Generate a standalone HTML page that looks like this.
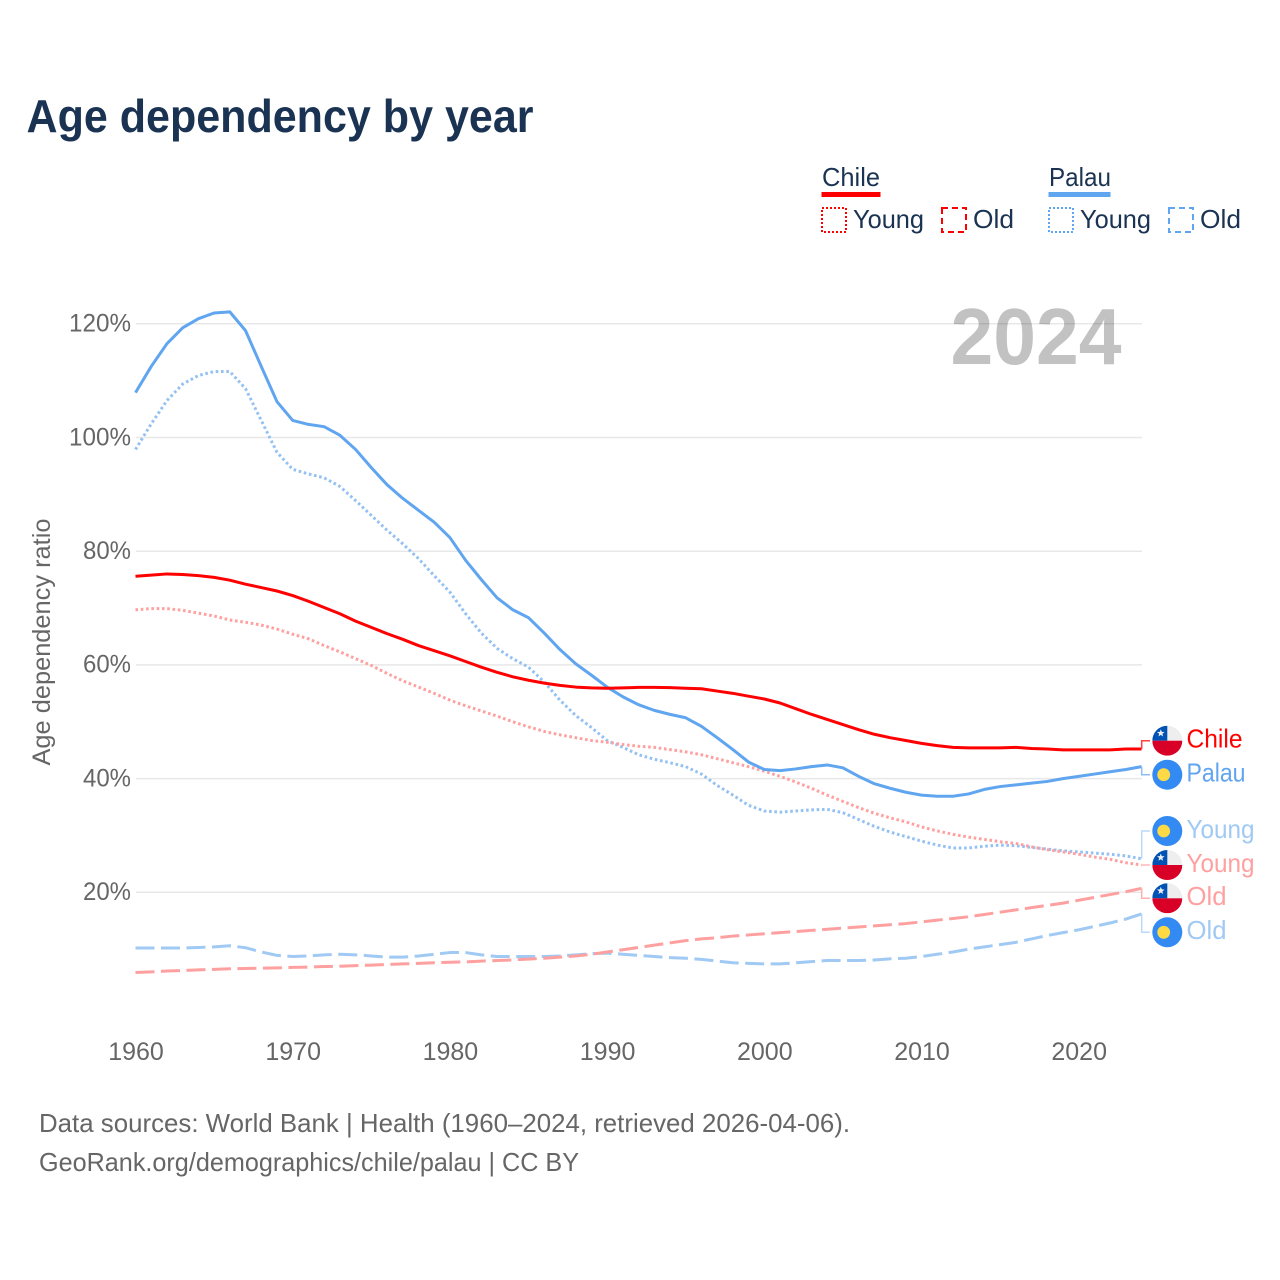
<!DOCTYPE html>
<html>
<head>
<meta charset="utf-8">
<title>Age dependency by year</title>
<style>
html,body{margin:0;padding:0;background:#fff;width:1280px;height:1280px;overflow:hidden}
svg{display:block}
text{font-family:"Liberation Sans",sans-serif}
</style>
</head>
<body>
<svg id="chart" xmlns="http://www.w3.org/2000/svg" width="1280" height="1280" viewBox="0 0 1280 1280">
  <rect width="1280" height="1280" fill="#fff"/>
  <text x="26.5" y="132" font-size="46" font-weight="700" fill="#1a3352" textLength="507" lengthAdjust="spacingAndGlyphs">Age dependency by year</text>

  <g>
    <g>
      <text x="822" y="186" font-size="26" fill="#1a3352" textLength="58" lengthAdjust="spacingAndGlyphs">Chile</text>
      <rect x="821.5" y="192" width="59" height="5" fill="#ff0000"/>
      <rect x="822" y="208" width="24" height="24" fill="none" stroke="#ff0000" stroke-width="2" stroke-dasharray="2 2"/>
      <text x="853" y="228" font-size="26" fill="#1a3352" textLength="71" lengthAdjust="spacingAndGlyphs">Young</text>
      <rect x="942" y="208" width="24" height="24" fill="none" stroke="#ff0000" stroke-width="2" stroke-dasharray="6 4"/>
      <text x="973" y="228" font-size="26" fill="#1a3352" textLength="41" lengthAdjust="spacingAndGlyphs">Old</text>
    </g>
    <g>
      <text x="1049" y="186" font-size="26" fill="#1a3352" textLength="62" lengthAdjust="spacingAndGlyphs">Palau</text>
      <rect x="1048.5" y="192" width="62" height="5" fill="#60a5ef"/>
      <rect x="1049" y="208" width="24" height="24" fill="none" stroke="#60a5ef" stroke-width="2" stroke-dasharray="2 2"/>
      <text x="1080" y="228" font-size="26" fill="#1a3352" textLength="71" lengthAdjust="spacingAndGlyphs">Young</text>
      <rect x="1169" y="208" width="24" height="24" fill="none" stroke="#60a5ef" stroke-width="2" stroke-dasharray="6 4"/>
      <text x="1200" y="228" font-size="26" fill="#1a3352" textLength="41" lengthAdjust="spacingAndGlyphs">Old</text>
    </g>
  </g>

  <g id="grid"></g>
  <g id="yticks"></g>
  <g id="xticks"></g>
  <text transform="translate(50 642) rotate(-90)" text-anchor="middle" font-size="25" fill="#666666" textLength="247" lengthAdjust="spacingAndGlyphs">Age dependency ratio</text>
  <text x="950.5" y="364" font-size="80" font-weight="700" fill="#000000" fill-opacity="0.24" textLength="171" lengthAdjust="spacingAndGlyphs">2024</text>
  <g id="series"></g>
  <g id="ends"></g>

  <text x="39" y="1132" font-size="26" fill="#666666" textLength="811" lengthAdjust="spacingAndGlyphs">Data sources: World Bank | Health (1960–2024, retrieved 2026-04-06).</text>
  <text x="39" y="1171" font-size="26" fill="#666666" textLength="540" lengthAdjust="spacingAndGlyphs">GeoRank.org/demographics/chile/palau | CC BY</text>
</svg>
<script>
var startYear = 1960;
var xTickYears = [1960, 1970, 1980, 1990, 2000, 2010, 2020];
var yTickValues = [20, 40, 60, 80, 100, 120];

var chileTotal = [75.6,75.8,76.0,75.9,75.7,75.4,74.9,74.2,73.6,73.0,72.2,71.2,70.1,69.0,67.7,66.6,65.5,64.5,63.4,62.5,61.6,60.6,59.6,58.7,57.9,57.3,56.8,56.4,56.1,55.95,55.9,55.95,56.05,56.05,56.0,55.9,55.8,55.4,55.0,54.5,54.0,53.3,52.3,51.3,50.4,49.5,48.6,47.8,47.2,46.7,46.2,45.8,45.5,45.4,45.4,45.4,45.5,45.3,45.2,45.05,45.05,45.05,45.05,45.2,45.2];
var palauTotal = [107.9,112.5,116.5,119.3,120.9,121.9,122.1,118.8,112.5,106.3,103.0,102.3,101.9,100.4,97.9,94.7,91.7,89.3,87.2,85.1,82.4,78.4,75.0,71.8,69.7,68.3,65.6,62.7,60.2,58.2,56.1,54.4,53.0,52.0,51.3,50.7,49.2,47.2,45.1,42.9,41.6,41.4,41.7,42.1,42.4,41.9,40.4,39.1,38.3,37.6,37.1,36.9,36.9,37.3,38.1,38.6,38.9,39.2,39.5,40.0,40.4,40.8,41.2,41.6,42.1];
var chileYoung = [69.7,69.9,69.9,69.6,69.1,68.6,67.9,67.5,67.0,66.3,65.4,64.6,63.4,62.3,61.1,59.9,58.5,57.2,56.1,55.0,53.8,52.8,51.9,51.0,50.0,49.1,48.3,47.7,47.2,46.7,46.4,46.0,45.7,45.5,45.1,44.7,44.2,43.5,42.8,42.1,41.3,40.4,39.4,38.3,37.1,36.0,34.9,33.9,33.1,32.4,31.5,30.8,30.2,29.7,29.3,28.9,28.6,28.0,27.5,27.1,26.7,26.2,25.8,25.2,24.8];
var palauYoung = [97.9,102.4,106.5,109.4,110.9,111.6,111.6,108.6,103.0,97.4,94.4,93.6,92.9,91.4,88.9,86.3,83.7,81.3,78.7,75.7,72.8,69.0,65.6,62.9,61.1,59.6,57.0,53.8,51.1,49.0,46.7,45.5,44.2,43.4,42.8,42.1,40.8,38.8,37.1,35.3,34.3,34.1,34.3,34.5,34.6,34.0,32.8,31.6,30.6,29.8,29.0,28.3,27.8,27.8,28.1,28.3,28.2,27.9,27.6,27.3,27.1,26.9,26.7,26.4,25.9];
var chileOld = [5.9,6.0,6.15,6.25,6.35,6.45,6.55,6.6,6.65,6.7,6.8,6.85,6.95,7.0,7.1,7.2,7.3,7.4,7.5,7.6,7.7,7.75,7.9,8.0,8.1,8.25,8.4,8.6,8.8,9.1,9.5,9.9,10.3,10.7,11.1,11.5,11.8,12.0,12.3,12.5,12.7,12.9,13.1,13.3,13.5,13.7,13.9,14.1,14.3,14.5,14.8,15.1,15.4,15.7,16.1,16.5,16.9,17.3,17.7,18.1,18.6,19.1,19.6,20.1,20.7];
var palauOld = [10.2,10.2,10.2,10.2,10.3,10.4,10.6,10.25,9.5,8.9,8.7,8.8,9.0,9.1,9.0,8.8,8.6,8.6,8.8,9.1,9.4,9.4,9.0,8.7,8.7,8.7,8.7,8.8,9.0,9.2,9.3,9.1,8.9,8.7,8.5,8.4,8.2,7.9,7.6,7.5,7.4,7.4,7.6,7.8,8.0,8.0,8.0,8.1,8.3,8.4,8.7,9.1,9.5,10.0,10.4,10.8,11.2,11.8,12.4,12.9,13.4,14.0,14.6,15.3,16.2];

var labelNames = ["Chile", "Palau", "Young", "Young", "Old", "Old"];

var NS = "http://www.w3.org/2000/svg";
function xScale(year) { return 135.5 + (year - 1960) * 15.72; }
function yScale(v) { return 1006 - v * 5.685; }
function make(tag, attrs, parent, txt) {
  var el = document.createElementNS(NS, tag);
  for (var k in attrs) el.setAttribute(k, attrs[k]);
  if (txt !== undefined) el.textContent = txt;
  parent.appendChild(el);
  return el;
}
function linePoints(values) {
  return values.map(function (v, i) {
    return xScale(startYear + i).toFixed(2) + "," + yScale(v).toFixed(2);
  }).join(" ");
}

var gridG = document.getElementById("grid");
var yG = document.getElementById("yticks");
yTickValues.forEach(function (v) {
  var ln = make("line", { x1: 136, x2: 1142, y1: yScale(v), y2: yScale(v), stroke: "#e8e8e8", "stroke-width": 1.5 }, gridG);
  
  
  var label = v + "%";
  var t = make("text", { x: 131, y: yScale(v) + 7.8, "text-anchor": "end", "font-size": 25, fill: "#666666", textLength: label.length === 4 ? 62 : 48, lengthAdjust: "spacingAndGlyphs" }, yG, label);
  
  
});

var xG = document.getElementById("xticks");
xTickYears.forEach(function (y) {
  var t = make("text", { x: xScale(y) + 0.5, y: 1060, "text-anchor": "middle", "font-size": 25, fill: "#666666" }, xG, String(y));
  
  
});

var seriesG = document.getElementById("series");
function drawLine(values, color, width, dash, name) {
  var attrs = { points: linePoints(values), fill: "none", stroke: color, "stroke-width": width, "stroke-linejoin": "round" };
  if (dash) attrs["stroke-dasharray"] = dash;
  var p = make("polyline", attrs, seriesG);
  
  
}
drawLine(palauOld, "#a0c9f4", 3, "19 6.5", "line-palau-old");
drawLine(chileOld, "#ffa0a0", 3, "19 6.5", "line-chile-old");
drawLine(palauYoung, "#94c1f2", 3, "2.6 2.7", "line-palau-young");
drawLine(chileYoung, "#ffa0a0", 3, "2.6 2.7", "line-chile-young");
drawLine(palauTotal, "#60a5ef", 3, "", "line-palau-total");
drawLine(chileTotal, "#ff0000", 3, "", "line-chile-total");

var endsG = document.getElementById("ends");
function last(a) { return a[a.length - 1]; }
function chileFlag(g, cy) {
  var cx = 1167.3, r = 15;
  var clip = "flagclip" + Math.round(cy);
  var cp = make("clipPath", { id: clip }, g);
  make("circle", { cx: cx, cy: cy, r: r }, cp);
  var f = make("g", { "clip-path": "url(#" + clip + ")" }, g);
  
  
  make("rect", { x: cx - r, y: cy - r, width: 2 * r, height: r, fill: "#eeeeee" }, f);
  make("rect", { x: cx - r, y: cy - r, width: r, height: r, fill: "#0052b4" }, f);
  make("rect", { x: cx - r, y: cy, width: 2 * r, height: r, fill: "#d80027" }, f);
  var sx = cx - 6.5, sy = cy - 7.5, pts = [];
  for (var i = 0; i < 10; i++) {
    var ang = -Math.PI / 2 + i * Math.PI / 5, rad = i % 2 ? 1.7 : 4;
    pts.push((sx + rad * Math.cos(ang)).toFixed(2) + "," + (sy + rad * Math.sin(ang)).toFixed(2));
  }
  make("polygon", { points: pts.join(" "), fill: "#eeeeee" }, f);
}
function palauFlag(g, cy) {
  var f = make("g", {}, g);
  
  
  make("circle", { cx: 1167.3, cy: cy, r: 15, fill: "#338af3" }, f);
  make("circle", { cx: 1163.7, cy: cy, r: 6.4, fill: "#ffda44" }, f);
}
function endLabel(index, values, labelY, color, connColor, flag, textW) {
  var g = make("g", {}, endsG);
  
  
  var y = yScale(last(values));
  make("polyline", { points: "1141.7," + y.toFixed(2) + " 1141.7," + labelY + " 1150," + labelY, fill: "none", stroke: connColor, "stroke-width": 1.5 }, g);
  flag(g, labelY);
  var t = make("text", { x: 1186.5, y: labelY + 6.8, "font-size": 26, fill: color, textLength: textW, lengthAdjust: "spacingAndGlyphs" }, g, labelNames[index]);
  
  
}
endLabel(0, chileTotal, 740.7, "#ff0000", "#ff4040", chileFlag, 56);
endLabel(1, palauTotal, 774.7, "#60a5ef", "#8dbff3", palauFlag, 59);
endLabel(2, palauYoung, 831, "#a0c9f4", "#bcd9f7", palauFlag, 68);
endLabel(3, chileYoung, 865, "#ffa0a0", "#ffb8b8", chileFlag, 68);
endLabel(4, chileOld, 898.3, "#ffa0a0", "#ffb0b0", chileFlag, 40);
endLabel(5, palauOld, 932.3, "#a0c9f4", "#bcd9f7", palauFlag, 40);
</script>
</body>
</html>
